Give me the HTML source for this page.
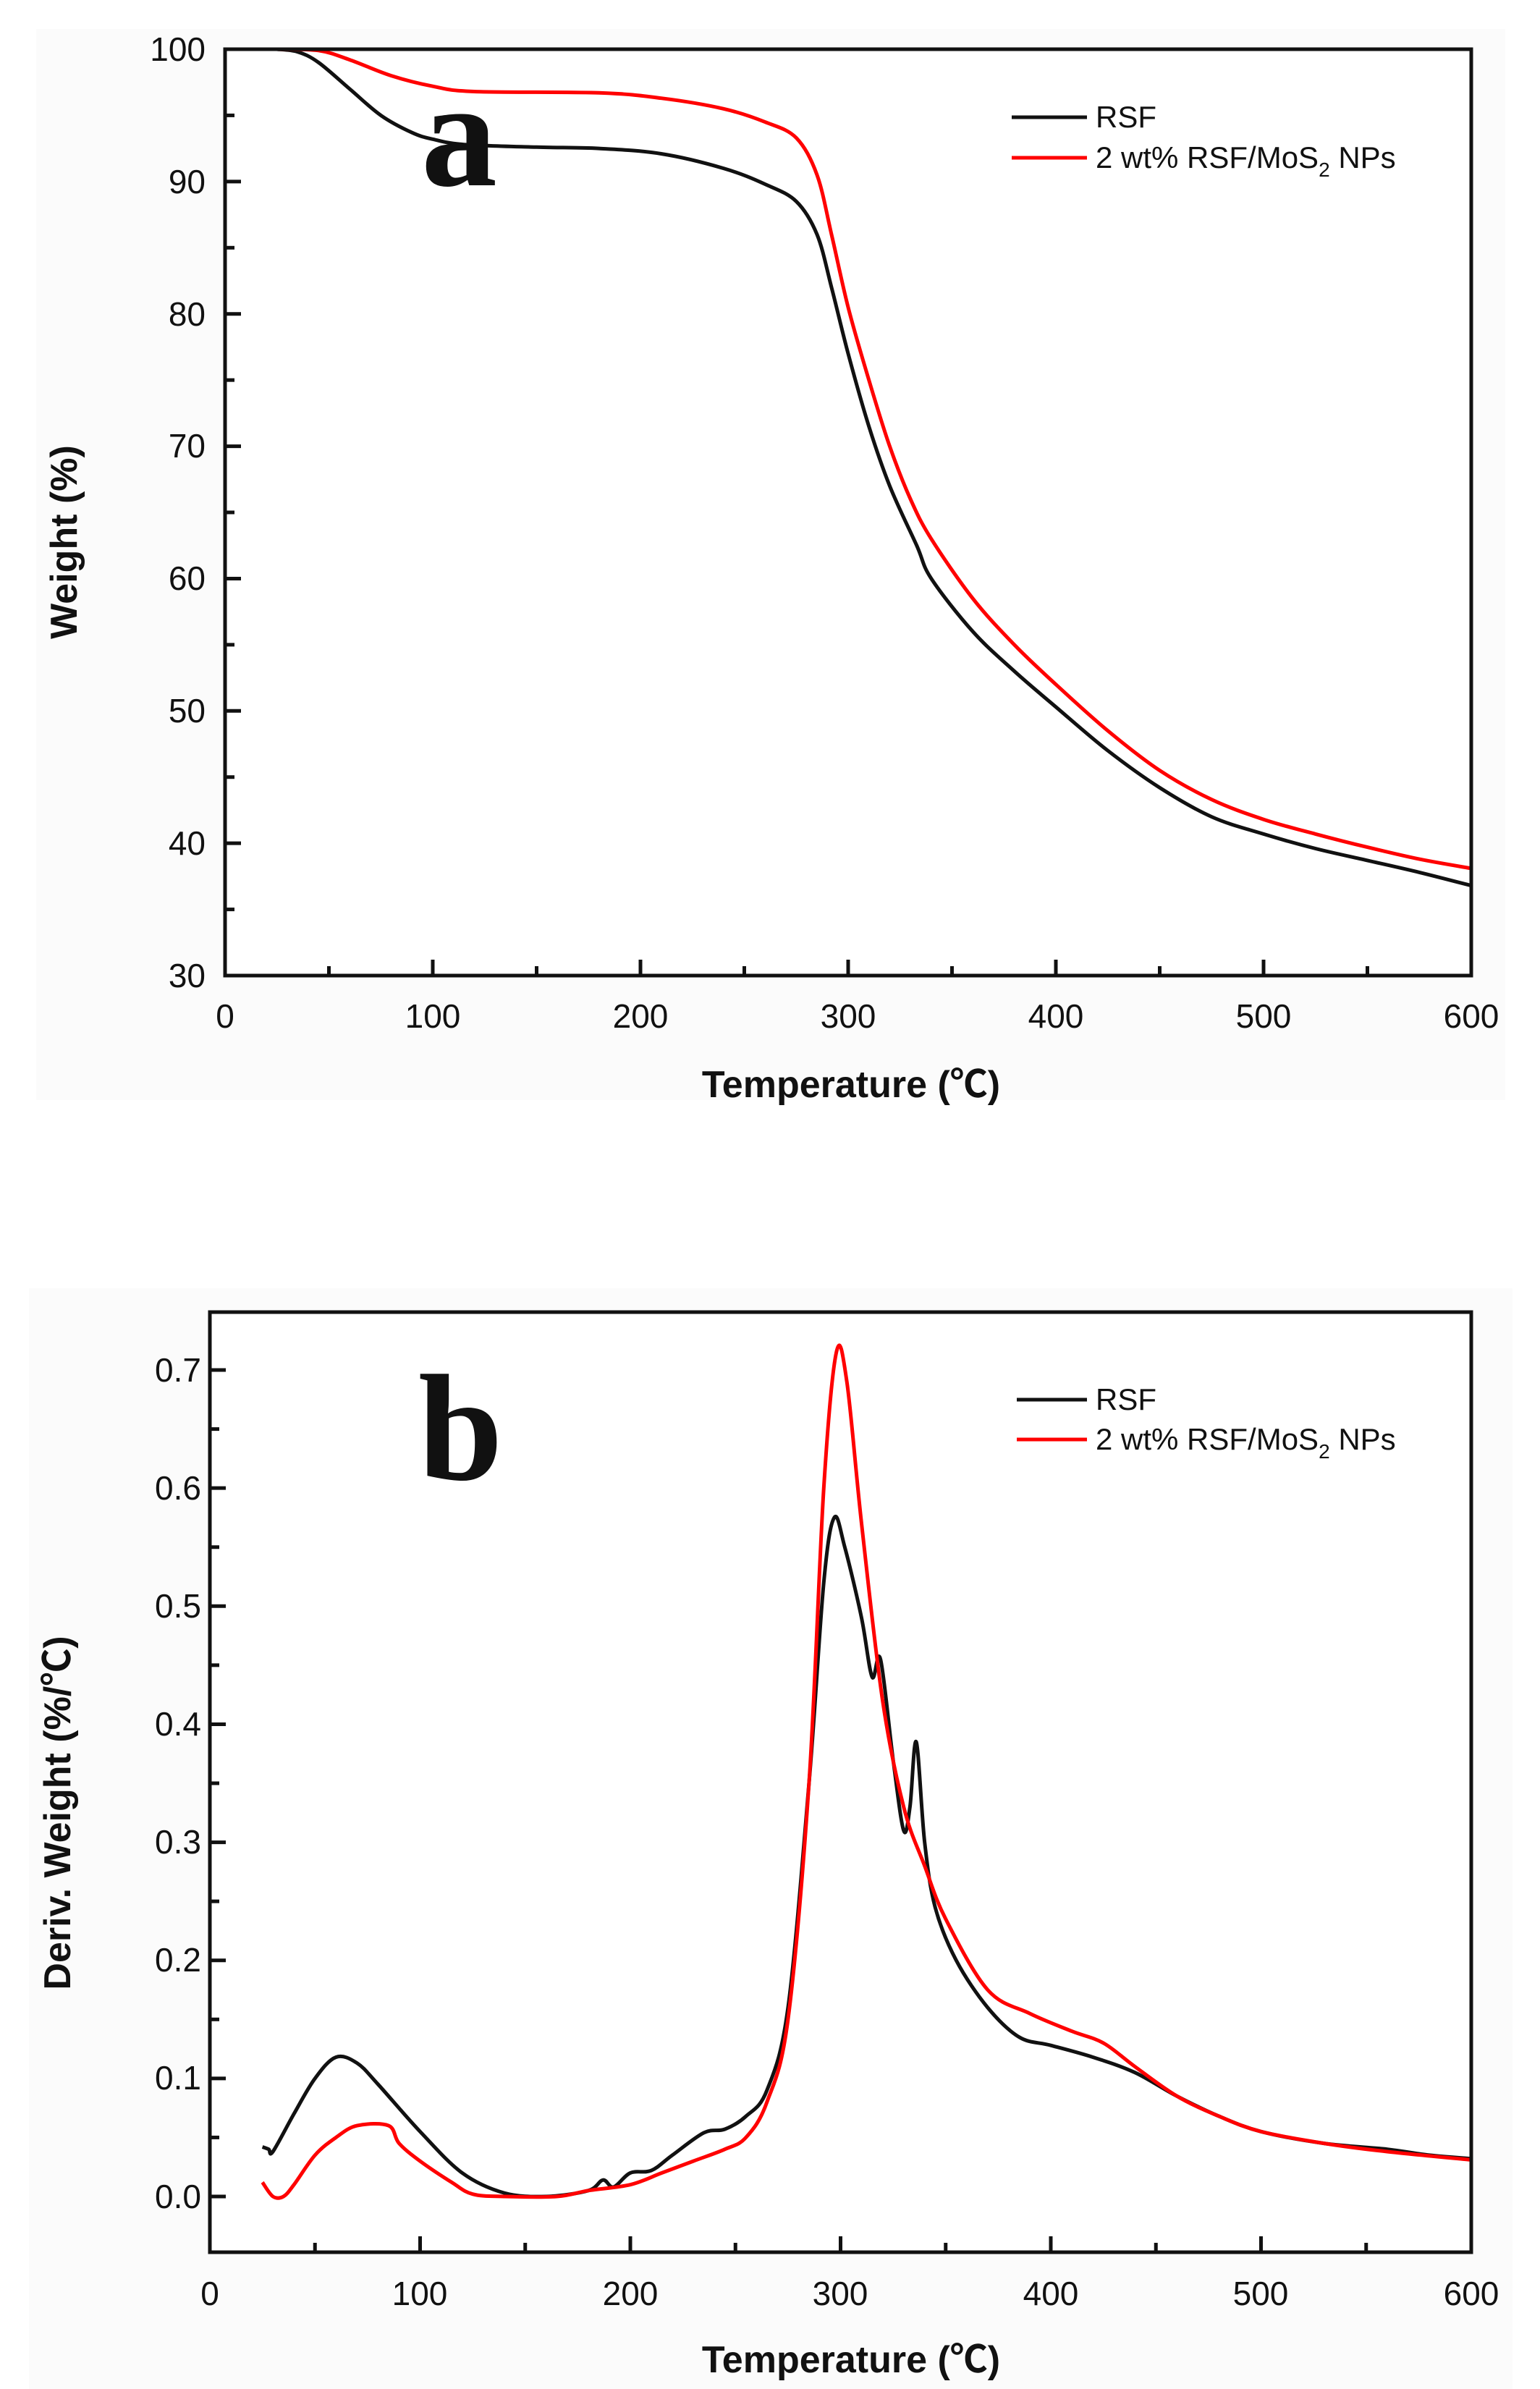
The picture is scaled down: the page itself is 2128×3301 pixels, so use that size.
<!DOCTYPE html>
<html><head><meta charset="utf-8">
<style>
html,body{margin:0;padding:0;background:#fff;}
svg{display:block;}
text{font-family:"Liberation Sans","Noto Sans CJK SC",sans-serif;fill:#111;}
.tk{font-size:46px;}
.tt{font-size:52px;font-weight:bold;}
.lg{font-size:42px;}
.big{font-family:"Liberation Serif",serif;font-weight:bold;font-size:210px;}
</style></head>
<body>
<svg id="s" width="2128" height="3301" viewBox="0 0 2128 3301" xmlns="http://www.w3.org/2000/svg">
<rect x="50" y="40" width="2030" height="1480" fill="#fbfbfb"/>
<rect x="40" y="1780" width="2050" height="1521" fill="#fbfbfb"/>
<rect x="311" y="68" width="1722" height="1280" fill="#fff"/>
<rect x="290" y="1813" width="1743" height="1299" fill="#fff"/>
<g id="axA"></g><g id="axB"></g>
<g id="curves"></g>
<rect x="311" y="68" width="1722" height="1280" fill="none" stroke="#111" stroke-width="5"/>
<rect x="290" y="1813" width="1743" height="1299" fill="none" stroke="#111" stroke-width="5"/>
<!-- labels a -->
<g class="tk" text-anchor="end">
<text x="284" y="84">100</text><text x="284" y="267">90</text><text x="284" y="450">80</text><text x="284" y="632">70</text><text x="284" y="815">60</text><text x="284" y="998">50</text><text x="284" y="1181">40</text><text x="284" y="1364">30</text>
</g>
<g class="tk" text-anchor="middle">
<text x="311" y="1420">0</text><text x="598" y="1420">100</text><text x="885" y="1420">200</text><text x="1172" y="1420">300</text><text x="1459" y="1420">400</text><text x="1746" y="1420">500</text><text x="2033" y="1420">600</text>
</g>
<text class="tt" x="1176" y="1516" text-anchor="middle">Temperature (℃)</text>
<text class="tt" transform="translate(106,749) rotate(-90)" text-anchor="middle">Weight (%)</text>
<text class="big" x="582" y="256">a</text>
<line x1="1398" y1="162" x2="1502" y2="162" stroke="#111" stroke-width="5"/>
<line x1="1398" y1="218" x2="1502" y2="218" stroke="#f00" stroke-width="5"/>
<text class="lg" x="1514" y="176">RSF</text>
<text class="lg" x="1514" y="232">2 wt% RSF/MoS<tspan font-size="28" dy="12">2</tspan><tspan dy="-12"> NPs</tspan></text>
<!-- labels b -->
<g class="tk" text-anchor="end">
<text x="278" y="1909">0.7</text><text x="278" y="2072">0.6</text><text x="278" y="2235">0.5</text><text x="278" y="2398">0.4</text><text x="278" y="2561">0.3</text><text x="278" y="2724">0.2</text><text x="278" y="2887">0.1</text><text x="278" y="3051">0.0</text>
</g>
<g class="tk" text-anchor="middle">
<text x="290" y="3185">0</text><text x="580" y="3185">100</text><text x="871" y="3185">200</text><text x="1161" y="3185">300</text><text x="1452" y="3185">400</text><text x="1742" y="3185">500</text><text x="2033" y="3185">600</text>
</g>
<text class="tt" x="1176" y="3278" text-anchor="middle">Temperature (℃)</text>
<text class="tt" transform="translate(97,2505) rotate(-90)" text-anchor="middle">Deriv. Weight (%/℃)</text>
<text class="big" x="578" y="2044">b</text>
<line x1="1405" y1="1934" x2="1502" y2="1934" stroke="#111" stroke-width="5"/>
<line x1="1405" y1="1989" x2="1502" y2="1989" stroke="#f00" stroke-width="5"/>
<text class="lg" x="1514" y="1948">RSF</text>
<text class="lg" x="1514" y="2003">2 wt% RSF/MoS<tspan font-size="28" dy="12">2</tspan><tspan dy="-12"> NPs</tspan></text>
</svg>
<script>
var NS="http://www.w3.org/2000/svg";
function el(p,t,a){var e=document.createElementNS(NS,t);for(var k in a)e.setAttribute(k,a[k]);p.appendChild(e);return e;}
var axA=document.getElementById('axA'),axB=document.getElementById('axB'),cv=document.getElementById('curves');
function XA(t){return 311+t*2.87;}function YA(w){return 68+(100-w)*18.286;}
function XB(t){return 290+t*2.905;}function YB(v){return 3035-v*1631.4;}
for(var t=0;t<=600;t+=50){var L=(t%100==0)?22:13;
 el(axA,'line',{x1:XA(t),x2:XA(t),y1:1348,y2:1348-L,stroke:'#111','stroke-width':5});
 el(axB,'line',{x1:XB(t),x2:XB(t),y1:3112,y2:3112-L,stroke:'#111','stroke-width':5});}
for(var w=30;w<=100;w+=5){var L=(w%10==0)?22:13;el(axA,'line',{x1:311,x2:311+L,y1:YA(w),y2:YA(w),stroke:'#111','stroke-width':5});}
for(var i=0;i<=14;i++){var v=i*0.05;var L=(i%2==0)?22:13;el(axB,'line',{x1:290,x2:290+L,y1:YB(v),y2:YB(v),stroke:'#111','stroke-width':5});}
function path(pts,X,Y,col){var p=pts.map(function(a){return [X(a[0]),Y(a[1])];});
 var d='M'+p[0][0].toFixed(1)+','+p[0][1].toFixed(1);
 for(var i=0;i<p.length-1;i++){var p0=p[Math.max(i-1,0)],p1=p[i],p2=p[i+1],p3=p[Math.min(i+2,p.length-1)];
  var c1=[p1[0]+(p2[0]-p0[0])/6,p1[1]+(p2[1]-p0[1])/6],c2=[p2[0]-(p3[0]-p1[0])/6,p2[1]-(p3[1]-p1[1])/6];
  d+='C'+c1[0].toFixed(1)+','+c1[1].toFixed(1)+' '+c2[0].toFixed(1)+','+c2[1].toFixed(1)+' '+p2[0].toFixed(1)+','+p2[1].toFixed(1);}
 el(cv,'path',{d:d,fill:'none',stroke:col,'stroke-width':5,'stroke-linejoin':'round'});}
var aK=[[25,100],[35,99.8],[45,99],[60,97],[75,95],[90,93.7],[100,93.2],[115,92.8],[150,92.6],[180,92.5],[210,92.1],[240,91],[260,89.8],[275,88.5],[285,86],[292,82],[300,77],[310,71.5],[320,67],[333,62.5],[340,60],[360,56],[380,53],[400,50.3],[425,47],[450,44.2],[475,42],[500,40.7],[525,39.6],[550,38.7],[575,37.8],[600,36.8]];
var aR=[[25,100],[45,99.9],[60,99.2],[80,98],[100,97.2],[120,96.8],[180,96.7],[210,96.3],[240,95.5],[260,94.5],[275,93.3],[285,90.5],[292,86],[300,80.5],[310,75],[320,70],[330,66],[340,63],[360,58.5],[380,55],[400,52],[425,48.5],[450,45.5],[475,43.3],[500,41.8],[525,40.7],[550,39.7],[575,38.8],[600,38.1]];
var bK=[[25,0.042],[28,0.04],[30,0.038],[40,0.07],[50,0.1],[60,0.118],[70,0.113],[80,0.095],[100,0.055],[120,0.02],[140,0.003],[160,0],[180,0.005],[187,0.014],[192,0.008],[200,0.02],[210,0.022],[220,0.035],[235,0.054],[245,0.057],[255,0.068],[265,0.09],[275,0.16],[285,0.35],[292,0.52],[297,0.575],[302,0.55],[310,0.49],[315,0.44],[319,0.455],[325,0.37],[330,0.31],[333,0.33],[336,0.385],[340,0.3],[345,0.245],[355,0.2],[370,0.16],[385,0.135],[400,0.128],[420,0.118],[440,0.105],[460,0.085],[480,0.068],[500,0.055],[530,0.045],[560,0.04],[580,0.035],[600,0.032]];
var bR=[[25,0.012],[30,0],[35,0],[40,0.01],[50,0.035],[60,0.05],[70,0.06],[85,0.06],[90,0.045],[100,0.03],[115,0.012],[125,0.002],[140,0],[165,0],[180,0.005],[200,0.01],[215,0.02],[230,0.03],[245,0.04],[255,0.05],[265,0.08],[275,0.15],[285,0.35],[292,0.6],[298,0.715],[303,0.69],[310,0.57],[320,0.42],[330,0.33],[340,0.28],[350,0.235],[370,0.175],[390,0.155],[410,0.14],[425,0.13],[440,0.11],[460,0.085],[480,0.068],[500,0.055],[530,0.045],[560,0.038],[600,0.031]];
path(aK,XA,YA,'#111');path(aR,XA,YA,'#f00');
path(bK,XB,YB,'#111');path(bR,XB,YB,'#f00');
</script>
</body></html>
